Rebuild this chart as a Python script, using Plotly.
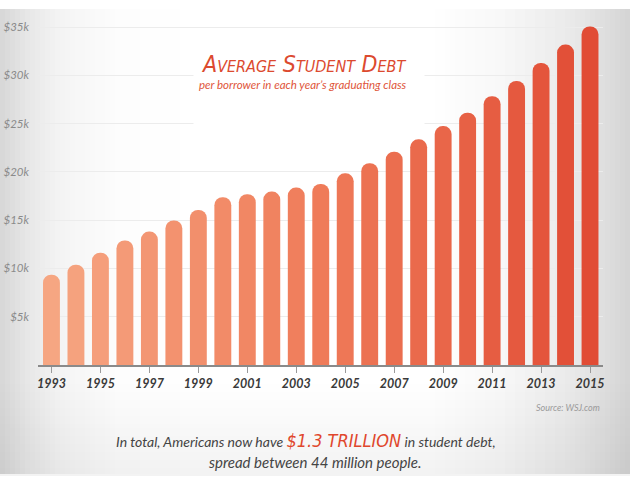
import plotly.graph_objects as go

years = list(range(1993, 2016))
debt = [9350, 10380, 11620, 12890, 13820, 14960, 16060, 17370, 17680, 17960,
        18370, 18750, 19850, 20890, 22090, 23370, 24740, 26120, 27840, 29420,
        31280, 33180, 35050]
y_ticks = [5000, 10000, 15000, 20000, 25000, 30000, 35000]
y_tick_labels = ["$5k", "$10k", "$15k", "$20k", "$25k", "$30k", "$35k"]
x_ticks = list(range(1993, 2016, 2))
x_tick_labels = [str(v) for v in x_ticks]

W, H = 630, 490
L, R, T, B = 38, 27, 20, 125
PW, PH = W - L - R, H - T - B


def xp(px):
    return (px - L) / PW


def yp(py):
    return (H - B - py) / PH


def lerp(c1, c2, t):
    return tuple(round(a + (b - a) * t) for a, b in zip(c1, c2))


def hexrgb(h):
    h = h.lstrip('#')
    return tuple(int(h[i:i + 2], 16) for i in (0, 2, 4))


c_left, c_mid, c_right = hexrgb('#f6a682'), hexrgb('#ef7b59'), hexrgb('#e14c35')
colors = []
n = len(years)
for i in range(n):
    t = i / (n - 1)
    if t <= 0.5:
        c = lerp(c_left, c_mid, t / 0.5)
    else:
        c = lerp(c_mid, c_right, (t - 0.5) / 0.5)
    colors.append('rgb(%d,%d,%d)' % c)

# background gradient strips
stops = [(0, 0xd6), (25, 0xe6), (60, 0xf4), (120, 0xfd), (200, 0xff), (430, 0xff),
         (500, 0xf8), (570, 0xea), (610, 0xdc), (630, 0xd4)]


def shade(px):
    for (a, ca), (b, cb) in zip(stops[:-1], stops[1:]):
        if a <= px <= b:
            return ca + (cb - ca) * (px - a) / (b - a)
    return 0xff


shapes = []
step = 5
for x0 in range(0, W, step):
    v = round(shade(x0 + step / 2))
    shapes.append(dict(type='rect', xref='paper', yref='paper', layer='below',
                       x0=xp(x0), x1=xp(x0 + step), y0=yp(474), y1=yp(9),
                       line=dict(width=0), fillcolor='rgb(%d,%d,%d)' % (v, v, v)))
# vertical darkening at the bottom
for y0 in range(380, 474, 4):
    a = 0.05 * (y0 - 380) / 94
    shapes.append(dict(type='rect', xref='paper', yref='paper', layer='below',
                       x0=xp(0), x1=xp(W), y0=yp(y0 + 4), y1=yp(y0),
                       line=dict(width=0), fillcolor='rgba(0,0,0,%.4f)' % a))

fig = go.Figure(go.Bar(x=years, y=debt, width=0.69, marker=dict(color=colors, line=dict(width=0)),
                       hoverinfo='x+y'))

body_font = "Lato, 'Open Sans', sans-serif"
cond_font = "'Liberation Sans Narrow', 'DejaVu Sans Condensed', sans-serif"

annotations = [
    dict(x=xp(309), y=yp(71), xref='paper', yref='paper', text=' ', showarrow=False,
         width=230, height=62, bgcolor='white', borderpad=0),
    dict(x=xp(303), y=yp(64), xref='paper', yref='paper', text='Average Student Debt',
         showarrow=False, xanchor='center', yanchor='middle',
         font=dict(family=cond_font, size=23, color='#dc4a2f', style='italic', variant='small-caps')),
    dict(x=xp(303), y=yp(85), xref='paper', yref='paper',
         text="per borrower in each year\u2019s graduating class",
         showarrow=False, xanchor='center', yanchor='middle',
         font=dict(family=body_font, size=11.5, color='#e0553a', style='italic')),
    dict(x=xp(602), y=yp(407), xref='paper', yref='paper', text='Source: WSJ.com',
         showarrow=False, xanchor='right', yanchor='middle',
         font=dict(family=body_font, size=9, color='#9a9a9a', style='italic')),
    dict(x=xp(306), y=yp(440), xref='paper', yref='paper',
         text="In total, Americans now have <span style=\"font-family:'DejaVu Sans Condensed';font-size:18px;color:#e0472d\">$1.3 TRILLION</span> in student debt,",
         showarrow=False, xanchor='center', yanchor='middle',
         font=dict(family=body_font, size=14, color='#444444', style='italic')),
    dict(x=xp(315), y=yp(462), xref='paper', yref='paper',
         text="spread between 44 million people.",
         showarrow=False, xanchor='center', yanchor='middle',
         font=dict(family=body_font, size=15, color='#444444', style='italic')),
]

fig.update_layout(
    width=W, height=H, margin=dict(l=L, r=R, t=T, b=B, pad=0, autoexpand=False),
    paper_bgcolor='white', plot_bgcolor='rgba(0,0,0,0)',
    barcornerradius='50%', showlegend=False,
    shapes=shapes, annotations=annotations,
    xaxis=dict(range=[1992.45, 2015.53], tickvals=x_ticks, ticktext=x_tick_labels,
               showgrid=False, zeroline=False, showline=True, linecolor='#8a8a8a', linewidth=2,
               ticks='outside', ticklen=6, tickcolor='#9a9a9a', tickwidth=1, automargin=False,
               tickfont=dict(family=body_font, size=12.5, color='#3a3a3a', weight='bold', style='italic')),
    yaxis=dict(range=[0, 35725], tickvals=y_ticks, ticktext=y_tick_labels,
               showgrid=True, gridcolor='#ececec', gridwidth=1, zeroline=False,
               showline=False, ticks='', ticklabelstandoff=8, automargin=False,
               tickfont=dict(family=body_font, size=11.5, color='#8a8a8a', style='italic')),
)

fig.write_html("out.html", config={'displayModeBar': False},
               post_script="document.body.style.margin='0px';")
